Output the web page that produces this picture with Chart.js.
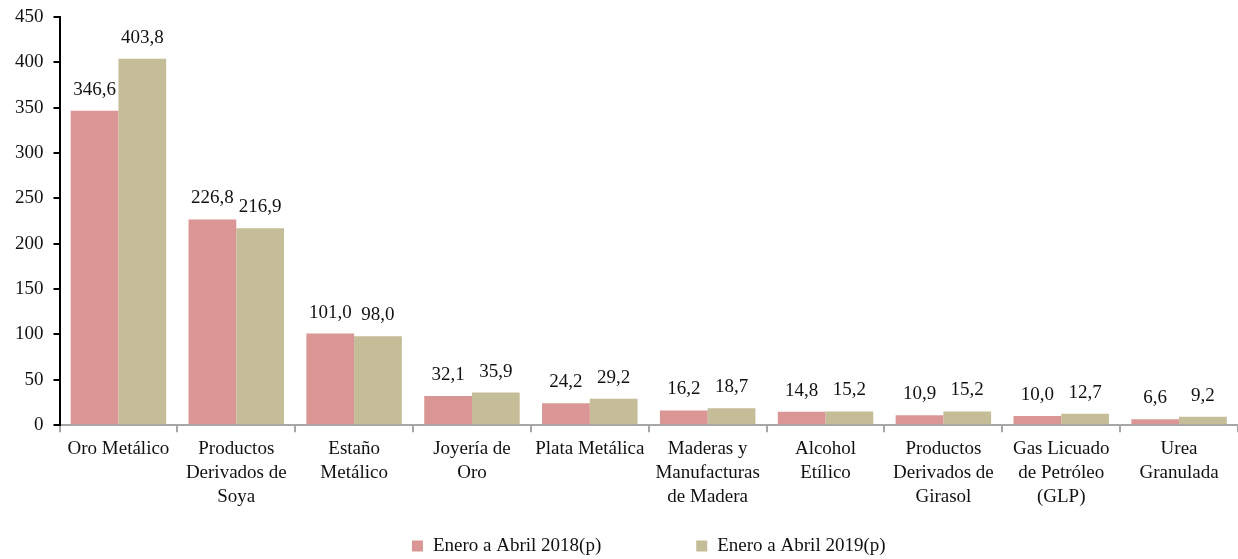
<!DOCTYPE html>
<html><head><meta charset="utf-8">
<script src="https://cdn.jsdelivr.net/npm/chart.js@4/dist/chart.umd.min.js"></script>
<style>html,body{margin:0;padding:0;background:#fff}#wrap{width:1238px;height:559px}</style>
</head><body><div id="wrap"><canvas id="c"></canvas></div>
<script>
const categories = [
  ["Oro Metálico"],
  ["Productos","Derivados de","Soya"],
  ["Estaño","Metálico"],
  ["Joyería de","Oro"],
  ["Plata Metálica"],
  ["Maderas y","Manufacturas","de Madera"],
  ["Alcohol","Etílico"],
  ["Productos","Derivados de","Girasol"],
  ["Gas Licuado","de Petróleo","(GLP)"],
  ["Urea","Granulada"]
];
const values2018 = [346.6, 226.8, 101.0, 32.1, 24.2, 16.2, 14.8, 10.9, 10.0, 6.6];
const values2019 = [403.8, 216.9, 98.0, 35.9, 29.2, 18.7, 15.2, 15.2, 12.7, 9.2];
const seriesNames = ["Enero a Abril 2018(p)", "Enero a Abril 2019(p)"];
const seriesColors = ['#D99694', '#C4BD97'];

const FONT = "'Liberation Serif', 'DejaVu Serif', serif";
const FS = 19;

const valueLabels = {
  id: 'valueLabels',
  afterDatasetsDraw(chart) {
    const ctx = chart.ctx;
    ctx.save();
    ctx.font = FS + "px " + FONT;
    ctx.fillStyle = '#111';
    ctx.textAlign = 'center';
    ctx.textBaseline = 'alphabetic';
    chart.data.datasets.forEach((ds, i) => {
      const meta = chart.getDatasetMeta(i);
      meta.data.forEach((bar, j) => {
        const txt = ds.data[j].toFixed(1).replace('.', ',');
        ctx.fillText(txt, bar.x, bar.y - 16);
      });
    });
    ctx.restore();
  }
};

const bottomLegend = {
  id: 'bottomLegend',
  afterDraw(chart) {
    const ctx = chart.ctx;
    const area = chart.chartArea;
    ctx.save();
    ctx.font = FS + "px " + FONT;
    const box = 11, boxGap = 10, itemGap = 95;
    const widths = seriesNames.map(n => box + boxGap + ctx.measureText(n).width);
    const total = widths.reduce((a, b) => a + b, 0) + itemGap * (widths.length - 1);
    let x = (area.left + area.right) / 2 - total / 2;
    const cy = chart.height - 13;
    ctx.textBaseline = 'middle';
    ctx.textAlign = 'left';
    seriesNames.forEach((n, i) => {
      ctx.fillStyle = seriesColors[i];
      ctx.fillRect(x, cy - box / 2, box, box);
      ctx.fillStyle = '#111';
      ctx.fillText(n, x + box + boxGap, cy);
      x += widths[i] + itemGap;
    });
    ctx.restore();
  }
};

new Chart(document.getElementById('c'), {
  type: 'bar',
  data: {
    labels: categories,
    datasets: [
      { label: seriesNames[0], data: values2018, backgroundColor: seriesColors[0], categoryPercentage: 0.81, barPercentage: 1.0 },
      { label: seriesNames[1], data: values2019, backgroundColor: seriesColors[1], categoryPercentage: 0.81, barPercentage: 1.0 }
    ]
  },
  options: {
    responsive: true,
    maintainAspectRatio: false,
    animation: false,
    layout: { padding: { top: 0, right: 0, left: 5, bottom: 45 } },
    plugins: {
      legend: { display: false },
      tooltip: { enabled: false }
    },
    scales: {
      x: {
        border: { color: '#A6A6A6', width: 2 },
        grid: { drawOnChartArea: false, drawTicks: true, tickLength: 7, color: '#A6A6A6', lineWidth: 2, offset: true },
        ticks: { font: { family: FONT, size: FS, lineHeight: 1.26 }, color: '#111', maxRotation: 0, autoSkip: false, padding: 5 }
      },
      y: {
        min: 0, max: 450,
        border: { color: '#000', width: 2 },
        grid: { drawOnChartArea: false, drawTicks: true, tickLength: 6, color: '#000', lineWidth: 2 },
        ticks: { stepSize: 50, font: { family: FONT, size: FS, lineHeight: 0.72 }, color: '#111', padding: 10 }
      }
    }
  },
  plugins: [valueLabels, bottomLegend]
});
</script>
</body></html>
